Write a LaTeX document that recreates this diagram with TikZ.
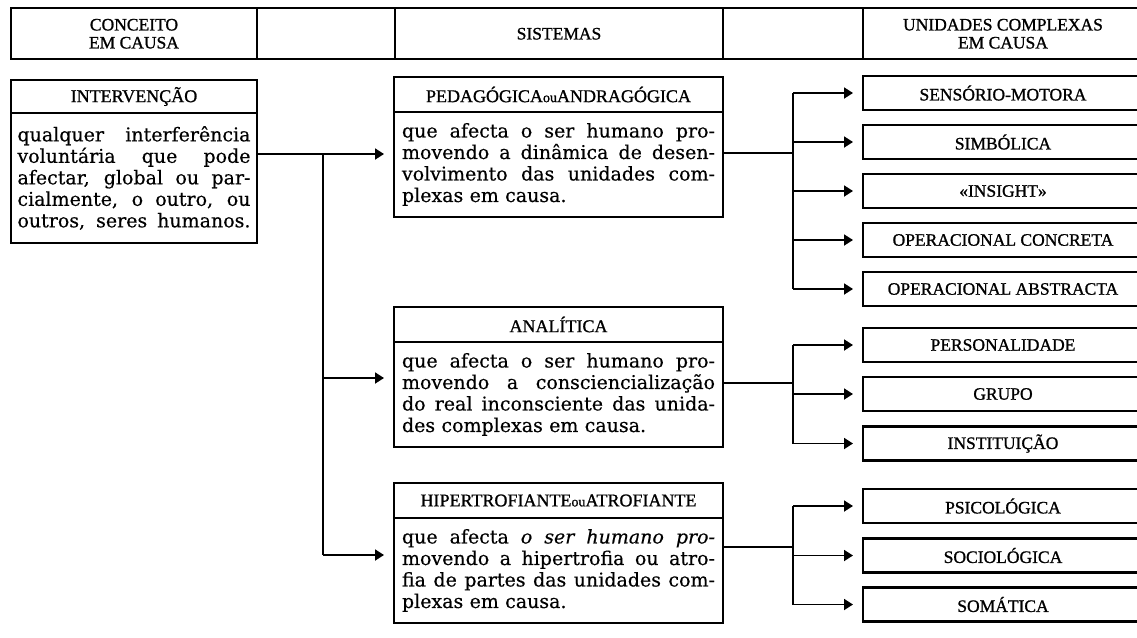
\documentclass[tikz,border=0pt]{standalone}
\usepackage{fontspec}
\setmainfont{DejaVu Serif}[FakeBold=0.4]
\newfontfamily\capfont{Liberation Serif}[FakeBold=1]
\usetikzlibrary{arrows.meta,positioning}

\newcommand{\jl}[2][313pt]{\leavevmode\hbox to #1{\spaceskip=.3em plus 1fil\relax#2}}
\newcommand{\smou}{{\fontsize{14}{14}\selectfont ou}}

\begin{document}
\begin{tikzpicture}[x=1pt,y=-1pt,
  every node/.style={outer sep=0pt},
  cell/.style={draw,line width=2.2pt,minimum height=51pt,inner sep=0pt,align=center,font=\capfont\fontsize{17.5}{18}\selectfont},
  head/.style={draw,line width=2.2pt,minimum height=35pt,inner sep=0pt,font=\capfont\fontsize{18}{18}\selectfont},
  body/.style={draw,line width=2.2pt,inner xsep=8pt,inner ysep=0pt,align=left,font=\fontsize{19}{21.5}\selectfont},
  unit/.style={draw,line width=2.2pt,minimum width=280pt,minimum height=34pt,inner sep=0pt,font=\capfont\fontsize{17.5}{17}\selectfont},
  link/.style={line width=1.8pt},
  arr/.style={line width=1.8pt,-{Triangle[length=9pt,width=11pt]},shorten >=10pt}]
  \path[use as bounding box,fill=white] (0,0) rectangle (1137,637);

  \node (hcon) at (134,33.75) [cell,minimum width=246pt] {CONCEITO\\EM CAUSA};
  \node (hgap1) at (326,33.75) [cell,minimum width=138pt] {};
  \node (hsis) at (559,33.75) [cell,minimum width=328pt] {SISTEMAS};
  \node (hgap2) at (793,33.75) [cell,minimum width=140pt] {};
  \node (huni) at (1003,33.75) [cell,minimum width=280pt] {UNIDADES COMPLEXAS\\EM CAUSA};

  \node (intvT) at (134,96.5) [head,minimum width=246pt,minimum height=33pt] {INTERVENÇÃO};
  \node (intv) [body,below=0pt of intvT,inner xsep=6.5pt,text width=233pt,minimum height=130pt] {%
    \jl[233pt]{qualquer interferência}\\ \jl[233pt]{voluntária que pode}\\ \jl[233pt]{afectar, global ou par-}\\
    \jl[233pt]{cialmente, o outro, ou}\\ \jl[233pt]{outros, seres humanos.}};

  \node (pedT) at (558.5,94.5) [head,minimum width=329pt] {PEDAGÓGICA\smou ANDRAGÓGICA};
  \node (ped) [body,below=0pt of pedT,text width=313pt,minimum height=105pt] {%
    \jl{que afecta o ser humano pro-}\\ \jl{movendo a dinâmica de desen-}\\
    \jl{volvimento das unidades com-}\\ plexas em causa.};

  \node (anaT) at (558.5,324.5) [head,minimum width=329pt] {ANALÍTICA};
  \node (ana) [body,below=0pt of anaT,text width=313pt,minimum height=105pt] {%
    \jl{que afecta o ser humano pro-}\\ \jl{movendo a consciencialização}\\
    \jl{do real inconsciente das unida-}\\ des complexas em causa.};

  \node (hipT) at (558.5,500.5) [head,minimum width=329pt] {HIPERTROFIANTE\smou ATROFIANTE};
  \node (hip) [body,below=0pt of hipT,text width=313pt,minimum height=105pt] {%
    \jl{que afecta \textit{o ser humano pro-}}\\ \jl{movendo a hipertrofia ou atro-}\\
    \jl{fia de partes das unidades com-}\\ plexas em causa.};

  \node (sm) at (1003,93) [unit] {SENSÓRIO-MOTORA};
  \node (simb) at (1003,142) [unit] {SIMBÓLICA};
  \node (ins) at (1003,191) [unit] {«INSIGHT»};
  \node (opc) at (1003,240) [unit] {OPERACIONAL CONCRETA};
  \node (opa) at (1003,289) [unit] {OPERACIONAL ABSTRACTA};
  \node (pers) at (1003,345) [unit] {PERSONALIDADE};
  \node (grp) at (1003,394) [unit] {GRUPO};
  \node (inst) at (1003,443.5) [unit] {INSTITUIÇÃO};
  \node (psi) at (1003,506) [unit] {PSICOLÓGICA};
  \node (soc) at (1003,555.5) [unit] {SOCIOLÓGICA};
  \node (som) at (1003,604.5) [unit] {SOMÁTICA};

  \coordinate (j1) at (323,154);
  \coordinate (j2) at (323,378);
  \coordinate (j3) at (323,555);
  \draw[link] (intv.east |- j1) -- (j1) -- (j3);
  \draw[arr] (j1) -- (ped.west |- j1);
  \draw[arr] (j2) -- (ana.west |- j2);
  \draw[arr] (j3) -- (hip.west |- j3);

  \coordinate (k1) at (793,153);
  \coordinate (k2) at (793,383);
  \coordinate (k3) at (793,547);
  \draw[link] (ped.east |- k1) -- (k1);
  \draw[link] (ana.east |- k2) -- (k2);
  \draw[link] (hip.east |- k3) -- (k3);
  \draw[link] (sm.west -| k1) -- (opa.west -| k1);
  \draw[link] (pers.west -| k2) -- (inst.west -| k2);
  \draw[link] (psi.west -| k3) -- (som.west -| k3);
  \foreach \u/\k in {sm/k1,simb/k1,ins/k1,opc/k1,opa/k1,pers/k2,grp/k2,inst/k2,psi/k3,soc/k3,som/k3}
    \draw[arr] (\u.west -| \k) -- (\u.west);
\end{tikzpicture}
\end{document}
